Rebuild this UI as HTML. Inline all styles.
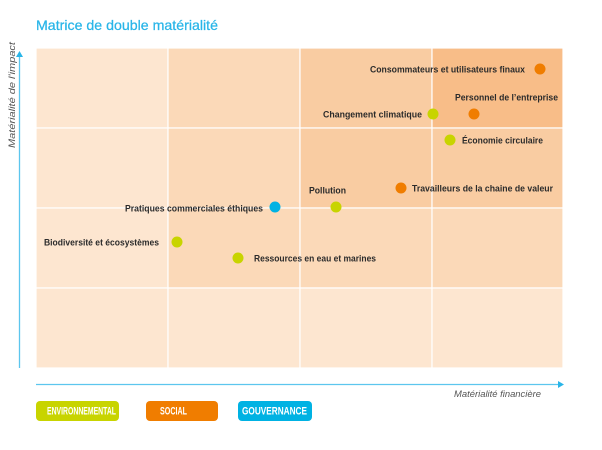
<!DOCTYPE html>
<html><head><meta charset="utf-8"><style>
body{margin:0;background:#fff;}
svg{display:block;font-family:"Liberation Sans",sans-serif;}
.l{font-size:9.5px;font-weight:bold;fill:#2b2b2b;}
.g{font-size:11px;font-weight:bold;fill:#fff;}
</style></head><body>
<svg width="602" height="450" viewBox="0 0 602 450">
<text x="36" y="30" font-size="14" fill="#29b5e8" stroke="#29b5e8" stroke-width="0.25" textLength="182" lengthAdjust="spacingAndGlyphs">Matrice de double matérialité</text>
<g stroke="#fff" stroke-width="1.2">
<rect x="36" y="48" width="132" height="80" fill="#fde6d0"/>
<rect x="168" y="48" width="132" height="80" fill="#fbd9b8"/>
<rect x="300" y="48" width="132" height="80" fill="#f9cca2"/>
<rect x="432" y="48" width="131" height="80" fill="#f8bd88"/>
<rect x="36" y="128" width="132" height="80" fill="#fde6d0"/>
<rect x="168" y="128" width="132" height="80" fill="#fbd9b8"/>
<rect x="300" y="128" width="132" height="80" fill="#f9cca2"/>
<rect x="432" y="128" width="131" height="80" fill="#f9cca2"/>
<rect x="36" y="208" width="132" height="80" fill="#fde6d0"/>
<rect x="168" y="208" width="132" height="80" fill="#fbd9b8"/>
<rect x="300" y="208" width="132" height="80" fill="#fbd9b8"/>
<rect x="432" y="208" width="131" height="80" fill="#fbd9b8"/>
<rect x="36" y="288" width="132" height="80" fill="#fde6d0"/>
<rect x="168" y="288" width="132" height="80" fill="#fde6d0"/>
<rect x="300" y="288" width="132" height="80" fill="#fde6d0"/>
<rect x="432" y="288" width="131" height="80" fill="#fde6d0"/>
</g>
<line x1="19.5" y1="368" x2="19.5" y2="56" stroke="#5cc6ee" stroke-width="1.3"/>
<polygon points="19.5,51 16,57 23,57" fill="#29b5e8"/>
<text transform="translate(15,148) rotate(-90)" font-size="9" font-style="italic" fill="#555" textLength="106" lengthAdjust="spacingAndGlyphs">Matérialité de l'impact</text>
<line x1="36" y1="384.5" x2="558" y2="384.5" stroke="#5cc6ee" stroke-width="1.3"/>
<polygon points="564,384.5 558,381 558,388" fill="#29b5e8"/>
<text x="541" y="397" text-anchor="end" font-size="9" font-style="italic" fill="#555" textLength="87" lengthAdjust="spacingAndGlyphs">Matérialité financière</text>
<g>
<circle cx="540" cy="69" r="5.5" fill="#f07d00"/>
<text class="l" x="525" y="72.5" text-anchor="end" textLength="155" lengthAdjust="spacingAndGlyphs">Consommateurs et utilisateurs finaux</text>
<text class="l" x="455" y="100.5" textLength="103" lengthAdjust="spacingAndGlyphs">Personnel de l’entreprise</text>
<circle cx="474" cy="114" r="5.5" fill="#f07d00"/>
<circle cx="433" cy="114" r="5.5" fill="#c8d400"/>
<text class="l" x="422" y="117.5" text-anchor="end" textLength="99" lengthAdjust="spacingAndGlyphs">Changement climatique</text>
<circle cx="450" cy="140" r="5.5" fill="#c8d400"/>
<text class="l" x="462" y="143.5" textLength="81" lengthAdjust="spacingAndGlyphs">Économie circulaire</text>
<circle cx="401" cy="188" r="5.5" fill="#f07d00"/>
<text class="l" x="412" y="191.5" textLength="141" lengthAdjust="spacingAndGlyphs">Travailleurs de la chaine de valeur</text>
<text class="l" x="309" y="193.5" textLength="37" lengthAdjust="spacingAndGlyphs">Pollution</text>
<circle cx="336" cy="207" r="5.5" fill="#c8d400"/>
<circle cx="275" cy="207" r="5.5" fill="#00b2e3"/>
<text class="l" x="263" y="211.5" text-anchor="end" textLength="138" lengthAdjust="spacingAndGlyphs">Pratiques commerciales éthiques</text>
<circle cx="177" cy="242" r="5.5" fill="#c8d400"/>
<text class="l" x="44" y="245.5" textLength="115" lengthAdjust="spacingAndGlyphs">Biodiversité et écosystèmes</text>
<circle cx="238" cy="258" r="5.5" fill="#c8d400"/>
<text class="l" x="254" y="261.5" textLength="122" lengthAdjust="spacingAndGlyphs">Ressources en eau et marines</text>
</g>
<rect x="36" y="401" width="83" height="20" rx="4" fill="#c8d400"/>
<text class="g" x="47" y="414.5" textLength="69" lengthAdjust="spacingAndGlyphs">ENVIRONNEMENTAL</text>
<rect x="146" y="401" width="72" height="20" rx="4" fill="#f07d00"/>
<text class="g" x="160" y="414.5" textLength="27" lengthAdjust="spacingAndGlyphs">SOCIAL</text>
<rect x="238" y="401" width="74" height="20" rx="4" fill="#00b2e3"/>
<text class="g" x="242" y="414.5" textLength="65" lengthAdjust="spacingAndGlyphs">GOUVERNANCE</text>
</svg>
</body></html>
